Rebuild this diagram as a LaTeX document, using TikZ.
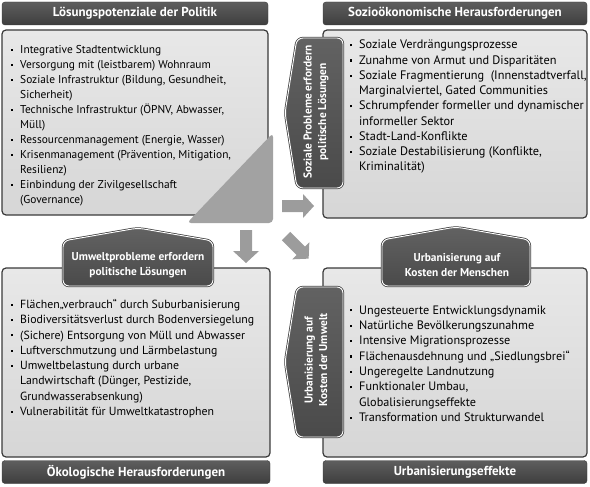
\documentclass[tikz,border=0pt]{standalone}
\usepackage{fontspec}
\setmainfont{PT Sans}
\usepackage{enumitem}
\setlist[itemize]{leftmargin=11pt, labelsep=7pt, itemsep=0pt, parsep=0pt, topsep=0pt, partopsep=0pt, label={\rule[2.7pt]{2.2pt}{2.2pt}}}
\definecolor{hdrtop}{HTML}{5E5E5E}
\definecolor{hdrbot}{HTML}{3E3E3E}
\definecolor{paneltop}{HTML}{E8E8E8}
\definecolor{panelbot}{HTML}{D6D6D6}
\definecolor{edge}{HTML}{3A3A3A}
\definecolor{tabtop}{HTML}{626262}
\definecolor{tabbot}{HTML}{4A4A4A}
\definecolor{wedgegray}{HTML}{A2A2A2}
\definecolor{flowgray}{HTML}{9C9C9C}
\begin{document}
\begin{tikzpicture}[x=1pt, y=-1pt,
    panel/.style={draw=edge, line width=1.2pt, rounded corners=4pt, top color=paneltop, bottom color=panelbot},
    header/.style={draw=edge, rounded corners=3pt, top color=hdrtop, bottom color=hdrbot, text=white,
      minimum height=23pt, inner sep=0pt, font=\fontsize{13}{14}\selectfont\bfseries},
    tab/.style={preaction={draw=edge, line width=2.4pt}, draw=white, line width=0.9pt, rounded corners=6pt,
      top color=tabtop, bottom color=tabbot},
    tabtext/.style={text=white, align=center, inner sep=0pt, font=\fontsize{11.4}{14.5}\selectfont\bfseries},
    list/.style={anchor=base west, inner sep=0pt, font=\fontsize{11.6}{15.2}\selectfont},
    flow/.style={fill=flowgray}]
  \useasboundingbox (0,0) rectangle (590,487);

  % panels
  \path[panel] (2,30) rectangle (268,215);
  \path[panel] (323,30) rectangle (587,218);
  \path[panel] (2,268) rectangle (270,457);
  \path[panel] (323,268) rectangle (587,457);

  % headers and footers
  \node[header, minimum width=266pt] (hpol) at (135,13.5) {Lösungspotenziale der Politik};
  \node[header, minimum width=264pt] (hsoz) at (455,13.5) {Sozioökonomische Herausforderungen};
  \node[header, minimum width=268pt] (hoek) at (136,472) {Ökologische Herausforderungen};
  \node[header, minimum width=264pt] (hurb) at (455,472) {Urbanisierungseffekte};

  % lists
  \node[list, font=\fontsize{11.4}{15}\selectfont] (lpol) at (9,53.5) {\begin{minipage}[t]{255pt}\begin{itemize}
    \item Integrative Stadtentwicklung
    \item Versorgung mit (leistbarem) Wohnraum
    \item Soziale Infrastruktur (Bildung, Gesundheit,\newline Sicherheit)
    \item Technische Infrastruktur (ÖPNV, Abwasser,\newline Müll)
    \item Ressourcenmanagement (Energie, Wasser)
    \item Krisenmanagement (Prävention, Mitigation,\newline Resilienz)
    \item Einbindung der Zivilgesellschaft\newline (Governance)
  \end{itemize}\end{minipage}};
  \node[list, font=\fontsize{12.3}{15.25}\selectfont] (lsoz) at (348,49) {\begin{minipage}[t]{240pt}\begin{itemize}
    \item Soziale Verdrängungsprozesse
    \item Zunahme von Armut und Disparitäten
    \item Soziale Fragmentierung~ (Innenstadtverfall,\newline Marginalviertel, Gated Communities
    \item Schrumpfender formeller und dynamischer\newline informeller Sektor
    \item Stadt-Land-Konflikte
    \item Soziale Destabilisierung (Konflikte,\newline Kriminalität)
  \end{itemize}\end{minipage}};
  \node[list, font=\fontsize{11.8}{15.3}\selectfont] (loek) at (9,308.5) {\begin{minipage}[t]{255pt}\begin{itemize}
    \item Flächen„verbrauch“ durch Suburbanisierung
    \item Biodiversitätsverlust durch Bodenversiegelung
    \item (Sichere) Entsorgung von Müll und Abwasser
    \item Luftverschmutzung und Lärmbelastung
    \item Umweltbelastung durch urbane\newline Landwirtschaft (Dünger, Pestizide,\newline Grundwasserabsenkung)
    \item Vulnerabilität für Umweltkatastrophen
  \end{itemize}\end{minipage}};
  \node[list, font=\fontsize{12.2}{15.4}\selectfont] (lurb) at (348,314) {\begin{minipage}[t]{240pt}\begin{itemize}
    \item Ungesteuerte Entwicklungsdynamik
    \item Natürliche Bevölkerungszunahme
    \item Intensive Migrationsprozesse
    \item Flächenausdehnung und „Siedlungsbrei“
    \item Ungeregelte Landnutzung
    \item Funktionaler Umbau,\newline Globalisierungseffekte
    \item Transformation und Strukturwandel
  \end{itemize}\end{minipage}};

  % corner wedge and arrows
  \fill[wedgegray, rounded corners=4pt] (273,133) -- (273,223) -- (187,223) -- cycle;
  \fill[flow] (282,200) -- (303,200) -- (303,194) -- (314,206) -- (303,218) -- (303,212) -- (282,212) -- cycle;
  \fill[flow] (240,230) -- (252,230) -- (252,251) -- (259,251) -- (246,263) -- (233,251) -- (240,251) -- cycle;
  \begin{scope}[shift={(286,236)}, rotate=-45]
    \fill[flow] (0,-6) -- (21,-6) -- (21,-12) -- (32,0) -- (21,12) -- (21,6) -- (0,6) -- cycle;
  \end{scope}

  % tabs
  \path[tab] (343,38) -- (297,38) -- (285,113) -- (297,188) -- (343,188) -- cycle;
  \path[tab] (343,287) -- (297,287) -- (285,362) -- (297,437) -- (343,437) -- cycle;
  \path[tab] (63,286) -- (63,241) -- (138,228) -- (213,241) -- (213,286) -- cycle;
  \path[tab] (382,286) -- (382,240) -- (456,227) -- (530,240) -- (530,286) -- cycle;
  \node[tabtext, rotate=90] (tsoz) at (316,112) {Soziale Probleme erfordern\\politische Lösungen};
  \node[tabtext, rotate=90] (tumw) at (316,360) {Urbanisierung auf\\Kosten der Umwelt};
  \node[tabtext] (tpol) at (138,265) {Umweltprobleme erfordern\\politische Lösungen};
  \node[tabtext] (tmen) at (457,265) {Urbanisierung auf\\Kosten der Menschen};
\end{tikzpicture}
\end{document}
